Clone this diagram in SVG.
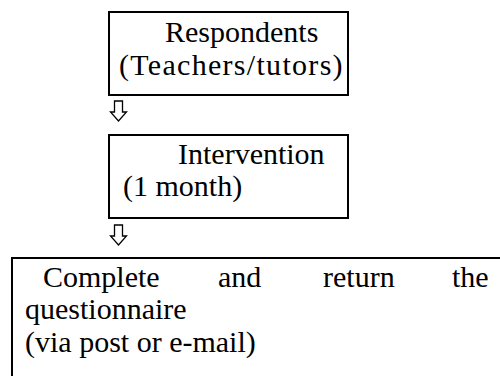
<svg xmlns="http://www.w3.org/2000/svg" width="500" height="376" viewBox="0 0 500 376">
<style>
.box{fill:#fff;stroke:#000;stroke-width:2}
.arr{fill:#fff;stroke:#000;stroke-width:1.3;stroke-linejoin:miter}
</style>
<rect width="500" height="376" fill="#fff"/>
<g id="node-respondents">
<rect class="box" x="109" y="12" width="239" height="83"/>
<text x="165" y="42" font-family="Liberation Serif" font-size="30">Respondents</text>
<text x="119" y="75" font-family="Liberation Serif" font-size="30" letter-spacing="1.3">(Teachers/tutors)</text>
</g>
<g id="node-intervention">
<rect class="box" x="109" y="135" width="239" height="83"/>
<text x="178" y="164" font-family="Liberation Serif" font-size="30">Intervention</text>
<text x="123" y="196" font-family="Liberation Serif" font-size="30">(1 month)</text>
</g>
<g id="node-complete">
<rect class="box" x="12" y="258" width="500" height="130"/>
<text x="43" y="287" font-family="Liberation Serif" font-size="30">Complete</text>
<text x="218" y="287" font-family="Liberation Serif" font-size="30">and</text>
<text x="323" y="287" font-family="Liberation Serif" font-size="30">return</text>
<text x="452" y="287" font-family="Liberation Serif" font-size="30">the</text>
<text x="25" y="319" font-family="Liberation Serif" font-size="30">questionnaire</text>
<text x="25" y="352" font-family="Liberation Serif" font-size="30">(via post or e-mail)</text>
</g>
<g id="connectors">
<polygon class="arr" points="114.5,101 122.5,101 122.5,112 126.5,112 118.5,121 110.5,112 114.5,112"/>
<polygon class="arr" points="114.5,225 122.5,225 122.5,236 126.5,236 118.5,245 110.5,236 114.5,236"/>
</g>
</svg>
